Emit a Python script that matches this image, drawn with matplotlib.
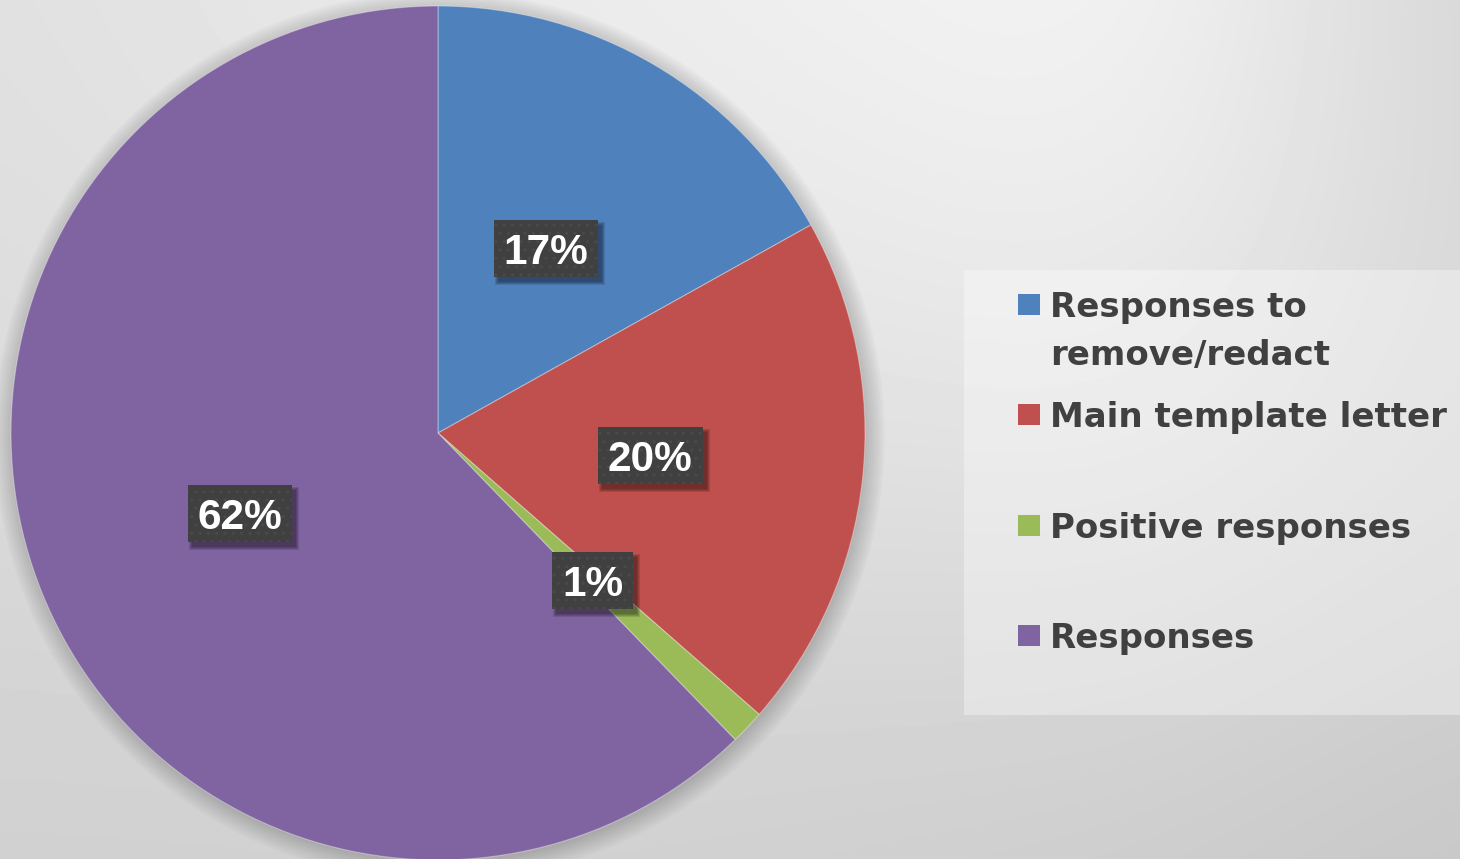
import numpy as np
import matplotlib
matplotlib.use("Agg")
import matplotlib.pyplot as plt
from matplotlib.patches import Rectangle, Circle

# ---- data ----
categories = ["Responses to\nremove/redact", "Main template letter", "Positive responses", "Responses"]
values = [16.9, 19.55, 1.3, 62.25]
colors = ["#4F81BD", "#C0504D", "#9BBB59", "#8064A2"]

W, H = 1460, 859
fig = plt.figure(figsize=(W / 100, H / 100), dpi=100)

# ---- background gradient ----
bg_grid = np.array([
    [0.88, 0.91, 0.93, 0.95, 0.965, 0.83],
    [0.86, 0.87, 0.88, 0.89, 0.90, 0.85],
    [0.81, 0.81, 0.81, 0.80, 0.79, 0.77],
])
ncol, nrow = bg_grid.shape[1], bg_grid.shape[0]
hx = 0.5 / (ncol - 1)
hy = 0.5 / (nrow - 1)
bg = fig.add_axes([0, 0, 1, 1])
bg.imshow(bg_grid, extent=[-hx, 1 + hx, -hy, 1 + hy], aspect="auto", cmap="gray", vmin=0, vmax=1,
          interpolation="bicubic", origin="upper")
bg.set_xlim(0, 1)
bg.set_ylim(0, 1)
bg.axis("off")

# legend panel
fig.patches.append(Rectangle((964 / W, 1 - 715 / H), 496 / W, 445 / H, transform=fig.transFigure,
                             facecolor="white", alpha=0.35, edgecolor="none", zorder=0.5))

# ---- pie ----
ax = fig.add_axes([11 / W, -1 / H, 854 / W, 854 / H])

for i in range(8):
    ax.add_patch(Circle((0.004, -0.008), 1.0 + 0.006 * i, facecolor="black", alpha=0.025,
                        edgecolor="none", zorder=0.5, clip_on=False))

wedges, texts, autotexts = ax.pie(
    values, colors=colors, startangle=90, counterclock=False,
    autopct="%.0f%%", pctdistance=0.5, radius=1,
    wedgeprops=dict(edgecolor=(1, 1, 1, 0.35), linewidth=0.8),
    textprops=dict(color="white", fontsize=30.5, fontweight="bold", family="Liberation Sans"),
)
ax.set_xlim(-1, 1)
ax.set_ylim(-1, 1)
ax.set_aspect("auto")
ax.axis("off")
for t in autotexts:
    t.set_va("center_baseline")
    t.set_zorder(5)

fig.canvas.draw()
renderer = fig.canvas.get_renderer()
inv = ax.transData.inverted()
for t in autotexts:
    bb = t.get_window_extent(renderer)
    cx, cy = ax.transData.transform(t.get_position())
    w = bb.width + 20
    h = 57
    # shadow layers
    for k in range(4):
        g = 2 * k
        x0, y0 = inv.transform((cx - w / 2 + 4 - g / 2, cy - h / 2 - 5 - g / 2))
        x1, y1 = inv.transform((cx + w / 2 + 4 + g / 2, cy + h / 2 - 5 + g / 2))
        ax.add_patch(Rectangle((x0, y0), x1 - x0, y1 - y0, facecolor="black", alpha=0.12,
                               edgecolor="none", zorder=3, clip_on=False))
    x0, y0 = inv.transform((cx - w / 2, cy - h / 2))
    x1, y1 = inv.transform((cx + w / 2, cy + h / 2))
    ax.add_patch(Rectangle((x0, y0), x1 - x0, y1 - y0, facecolor="#404040",
                           edgecolor="none", zorder=4, clip_on=False))
    ax.add_patch(Rectangle((x0, y0), x1 - x0, y1 - y0, fill=False, hatch="..",
                           edgecolor="#4a4a4a", linewidth=0, zorder=4.1, clip_on=False))

# ---- legend ----
leg_font = dict(fontsize=24.5, fontweight="bold", color="#404040", family="DejaVu Sans")
lines_per_entry = [c.split("\n") for c in categories]
baselines = [[317, 365], [427], [538], [648]]
for col, lines, bls in zip(colors, lines_per_entry, baselines):
    yb = bls[0]
    fig.patches.append(Rectangle((1018 / W, 1 - (yb - 2) / H), 22 / W, 21 / H,
                                 transform=fig.transFigure, facecolor=col,
                                 edgecolor="none", zorder=2))
    for line, b in zip(lines, bls):
        fig.text(1050 / W, 1 - b / H, line, ha="left", va="baseline", **leg_font)

fig.savefig("out.png", dpi=100)
